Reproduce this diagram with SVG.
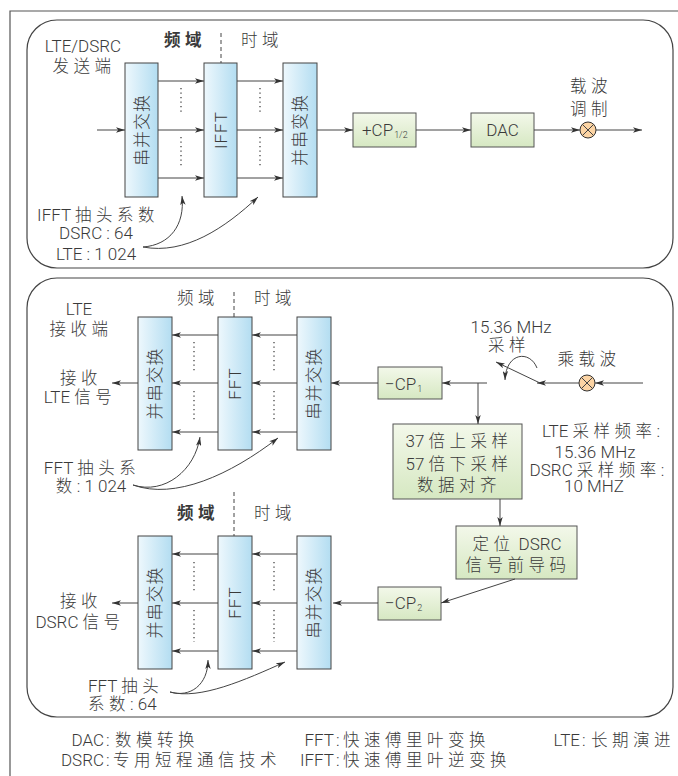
<svg xmlns="http://www.w3.org/2000/svg" width="678" height="776" viewBox="0 0 678 776">
<defs>
<linearGradient id="gb" x1="0" y1="0" x2="1" y2="0">
<stop offset="0" stop-color="#eef8fd"/><stop offset="1" stop-color="#b3ddf1"/>
</linearGradient>
<linearGradient id="gg" x1="0" y1="0" x2="0" y2="1">
<stop offset="0" stop-color="#f3f8ea"/><stop offset="1" stop-color="#d6e8c2"/>
</linearGradient>
<marker id="ah" viewBox="0 0 10 6" refX="10" refY="3" markerWidth="9" markerHeight="5.5" markerUnits="userSpaceOnUse" orient="auto">
<path d="M0,0 L10,3 L0,6 L2.5,3 z" fill="#333"/>
</marker>
<style>
.t{font-family:Roboto,"Liberation Sans","Noto Sans CJK SC",sans-serif;font-size:17px;fill:#3a3a3a;font-weight:300}
.c{font-family:"Noto Sans CJK SC",sans-serif;font-size:16.5px;letter-spacing:4.5px;font-weight:300}
.r{font-family:Roboto,"Liberation Sans","Noto Sans CJK SC",sans-serif;font-size:17px;fill:#3a3a3a;text-anchor:middle;letter-spacing:1px;font-weight:300}
.m{text-anchor:middle}
.e{text-anchor:end}
.b{font-weight:bold}
.b .c{font-weight:bold}
.ln{stroke:#444;stroke-width:1;fill:none}
.ar{marker-end:url(#ah)}
.dot{stroke:#444;stroke-width:1.3;stroke-dasharray:1.3 3.2;fill:none}
.dash{stroke:#444;stroke-width:1;stroke-dasharray:4 3;fill:none}
.blue{fill:url(#gb);stroke:#444;stroke-width:1}
.green{fill:url(#gg);stroke:#555;stroke-width:1}
.mix{fill:#fcd4a4;stroke:#333;stroke-width:1}
.panel{fill:none;stroke:#444;stroke-width:1.2}
.sub{font-size:9px}
</style>
</defs>
<rect width="678" height="776" fill="#fff"/>
<path d="M10,776 V11 H678" fill="none" stroke="#555" stroke-width="1.2"/>

<g id="panel-tx"><rect class="panel" x="27" y="20" width="646" height="248" rx="30"/></g>
<g id="panel-rx"><rect class="panel" x="27" y="278" width="646" height="439" rx="30"/></g>

<!-- TOP: transmitter -->
<g id="tx-title"><text class="t m" x="83" y="52">LTE/DSRC</text><text class="t m" x="84" y="72"><tspan class="c">发送端</tspan></text></g>
<g id="tx-domain"><text class="t m b" x="185" y="46"><tspan class="c">频域</tspan></text><text class="t m" x="262" y="46"><tspan class="c">时域</tspan></text></g>
<g id="tx-sp"><rect class="blue" x="125" y="63" width="33" height="134"/><text class="r" transform="translate(141.5,130) rotate(-90)" dy="6">串并交换</text></g>
<g id="tx-ifft"><rect class="blue" x="204" y="63" width="33" height="134"/><text class="r" transform="translate(220.5,130) rotate(-90)" dy="6">IFFT</text></g>
<g id="tx-ps"><rect class="blue" x="283" y="63" width="34" height="134"/><text class="r" transform="translate(300,130) rotate(-90)" dy="6">并串变换</text></g>
<g id="tx-cp"><rect class="green" x="353" y="113" width="63" height="34"/><text class="t" x="362" y="136">+CP<tspan class="sub" dx="1" dy="2">1/2</tspan></text></g>
<g id="tx-dac"><rect class="green" x="471" y="113" width="63" height="34"/><text class="t m" x="502.5" y="136">DAC</text></g>
<g id="tx-mix"><circle class="mix" cx="588" cy="130" r="8"/><path class="ln" d="M582.3,124.3 L593.7,135.7 M593.7,124.3 L582.3,135.7"/><text class="t m" x="591" y="92"><tspan class="c">载波</tspan></text><text class="t m" x="591" y="115"><tspan class="c">调制</tspan></text></g>
<g id="tx-tap"><text class="t m" x="98" y="221">IFFT <tspan class="c">抽头系数</tspan></text><text class="t m" x="96" y="239">DSRC : 64</text><text class="t m" x="96" y="260">LTE : 1 024</text></g>

<!-- MIDDLE: LTE receiver -->
<g id="rx-title"><text class="t m" x="79" y="315">LTE</text><text class="t m" x="81" y="335"><tspan class="c">接收端</tspan></text></g>
<g id="rx1-domain"><text class="t m" x="198" y="304"><tspan class="c">频域</tspan></text><text class="t m" x="275" y="304"><tspan class="c">时域</tspan></text></g>
<g id="rx1-ps"><rect class="blue" x="138" y="317" width="34" height="133"/><text class="r" transform="translate(155,383.5) rotate(-90)" dy="6">并串交换</text></g>
<g id="rx1-fft"><rect class="blue" x="218" y="317" width="34" height="133"/><text class="r" transform="translate(235,383.5) rotate(-90)" dy="6">FFT</text></g>
<g id="rx1-sp"><rect class="blue" x="297" y="317" width="34" height="133"/><text class="r" transform="translate(314,383.5) rotate(-90)" dy="6">串并交换</text></g>
<g id="rx1-out"><text class="t m" x="81" y="384"><tspan class="c">接收</tspan></text><text class="t m" x="80" y="403">LTE <tspan class="c">信号</tspan></text></g>
<g id="rx1-tap"><text class="t m" x="92" y="474">FFT <tspan class="c">抽头系</tspan></text><text class="t m" x="91" y="492"><tspan class="c">数</tspan>: 1 024</text></g>
<g id="rx-cp1"><rect class="green" x="378" y="367" width="64" height="32"/><text class="t" x="385" y="390">−CP<tspan class="sub" dx="1" dy="2">1</tspan></text></g>
<g id="rx-mix"><circle class="mix" cx="587" cy="383" r="8"/><path class="ln" d="M581.3,377.3 L592.7,388.7 M592.7,377.3 L581.3,388.7"/><text class="t m" x="589" y="365"><tspan class="c">乘载波</tspan></text></g>
<g id="rx-sample"><text class="t m" x="511" y="333">15.36 MHz</text><text class="t m" x="509" y="351"><tspan class="c">采样</tspan></text></g>
<g id="rx-resample"><rect class="green" x="393" y="424" width="129" height="75"/><text class="t m" x="459" y="447">37 <tspan class="c">倍上采样</tspan></text><text class="t m" x="459" y="470">57 <tspan class="c">倍下采样</tspan></text><text class="t m" x="459" y="491"><tspan class="c">数据对齐</tspan></text></g>
<g id="rx-rates"><text class="t m" x="601" y="437">LTE <tspan class="c">采样频率</tspan>:</text><text class="t m" x="595" y="458">15.36 MHz</text><text class="t m" x="597" y="476">DSRC <tspan class="c">采样频率</tspan>:</text><text class="t m" x="594" y="492">10 MHZ</text></g>
<g id="rx-preamble"><rect class="green" x="456" y="526" width="121" height="53"/><text class="t m" x="517" y="550"><tspan class="c">定位</tspan> DSRC</text><text class="t m" x="518" y="571"><tspan class="c">信号前导码</tspan></text></g>
<g id="rx-cp2"><rect class="green" x="378" y="587" width="63" height="33"/><text class="t" x="385" y="609">−CP<tspan class="sub" dx="1" dy="2">2</tspan></text></g>

<!-- BOTTOM: DSRC receiver -->
<g id="rx2-domain"><text class="t m b" x="198" y="519"><tspan class="c">频域</tspan></text><text class="t m" x="275" y="519"><tspan class="c">时域</tspan></text></g>
<g id="rx2-ps"><rect class="blue" x="138" y="536" width="34" height="133"/><text class="r" transform="translate(155,602.5) rotate(-90)" dy="6">并串交换</text></g>
<g id="rx2-fft"><rect class="blue" x="218" y="536" width="34" height="133"/><text class="r" transform="translate(235,602.5) rotate(-90)" dy="6">FFT</text></g>
<g id="rx2-sp"><rect class="blue" x="297" y="536" width="34" height="133"/><text class="r" transform="translate(314,602.5) rotate(-90)" dy="6">串并交换</text></g>
<g id="rx2-out"><text class="t m" x="81" y="607"><tspan class="c">接收</tspan></text><text class="t m" x="80" y="628">DSRC <tspan class="c">信号</tspan></text></g>
<g id="rx2-tap"><text class="t" x="88" y="692">FFT <tspan class="c">抽头</tspan></text><text class="t" x="88" y="710"><tspan class="c">系数</tspan>: 64</text></g>

<!-- Legend -->
<g id="legend">
<text class="t e" x="104" y="746">DAC</text><text class="t" x="106" y="746">:</text><text class="t" x="115" y="746"><tspan class="c">数模转换</tspan></text>
<text class="t e" x="104" y="766">DSRC</text><text class="t" x="106" y="766">:</text><text class="t" x="113" y="766"><tspan class="c">专用短程通信技术</tspan></text>
<text class="t e" x="334" y="746">FFT</text><text class="t" x="336" y="746">:</text><text class="t" x="343" y="746"><tspan class="c">快速傅里叶变换</tspan></text>
<text class="t e" x="334" y="766">IFFT</text><text class="t" x="336" y="766">:</text><text class="t" x="343" y="766"><tspan class="c">快速傅里叶逆变换</tspan></text>
<text class="t e" x="580" y="746">LTE</text><text class="t" x="582" y="746">:</text><text class="t" x="591" y="746"><tspan class="c">长期演进</tspan></text>
</g>

<g id="connectors">
<!-- top -->
<path class="dash" d="M221,33 V63"/>
<path class="ln ar" d="M97,130 H125"/>
<path class="ln ar" d="M158,81 H204"/><path class="ln ar" d="M158,130 H204"/><path class="ln ar" d="M158,178 H204"/>
<path class="ln ar" d="M237,81 H283"/><path class="ln ar" d="M237,130 H283"/><path class="ln ar" d="M237,178 H283"/>
<path class="dot" d="M181,88 V113 M181,137 V168 M260,88 V113 M260,137 V168"/>
<path class="ln ar" d="M317,130 H353"/>
<path class="ln ar" d="M416,130 H471"/>
<path class="ln ar" d="M534,130 H580"/>
<path class="ln ar" d="M596,130 H642"/>
<path class="ln ar" d="M143,247 C170,245 185,225 182,196"/>
<path class="ln ar" d="M143,247 C185,255 225,228 258,197"/>
<!-- middle -->
<path class="dash" d="M234,292 V317"/>
<path class="ln ar" d="M218,335 H172"/><path class="ln ar" d="M218,383 H172"/><path class="ln ar" d="M218,432 H172"/>
<path class="ln ar" d="M297,335 H252"/><path class="ln ar" d="M297,383 H252"/><path class="ln ar" d="M297,432 H252"/>
<path class="dot" d="M194,342 V372 M194,391 V422 M274,342 V372 M274,391 V422"/>
<path class="ln ar" d="M138,383 H112"/>
<path class="ln ar" d="M378,383 H331"/>
<path class="ln ar" d="M487,383 H442"/>
<path class="ln ar" d="M478,383 V424"/>
<path class="ln ar" d="M643,383 H595"/>
<path class="ln ar" d="M579,383 H537"/>
<path class="ln ar" d="M540,383 L496,362"/>
<path class="ln ar" d="M537,368 C530,350 506,352 505,380"/>
<path class="ln ar" d="M500,499 V526"/>
<path class="ln ar" d="M515,579 L441,603"/>
<path class="ln ar" d="M378,603 H333"/>
<path class="ln ar" d="M133,485 C165,495 195,470 200,437"/>
<path class="ln ar" d="M133,485 C175,500 230,475 278,438"/>
<!-- bottom -->
<path class="dash" d="M234,492 V536"/>
<path class="ln ar" d="M218,554 H172"/><path class="ln ar" d="M218,603 H172"/><path class="ln ar" d="M218,651 H172"/>
<path class="ln ar" d="M297,554 H252"/><path class="ln ar" d="M297,603 H252"/><path class="ln ar" d="M297,651 H252"/>
<path class="dot" d="M194,562 V593 M194,610 V642 M274,562 V593 M274,610 V642"/>
<path class="ln ar" d="M138,603 H112"/>
<path class="ln ar" d="M170,692 C190,698 208,685 208,660"/>
<path class="ln ar" d="M170,692 C200,700 245,680 285,662"/>
</g>
</svg>
